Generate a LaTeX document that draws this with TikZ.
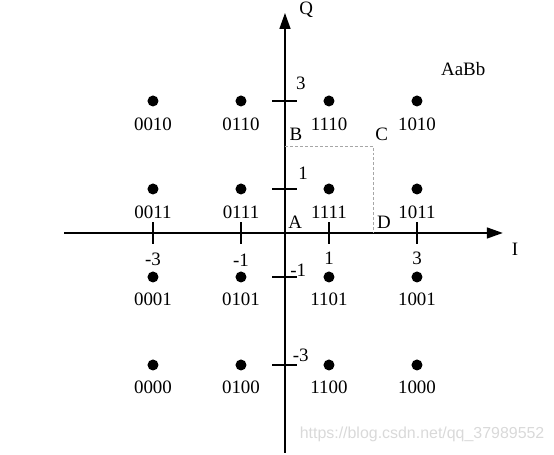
\documentclass[tikz,border=0pt]{standalone}
\usepackage{fontspec}
\setmainfont{Liberation Serif}
\newfontfamily\wmfont{Liberation Sans}
\usetikzlibrary{arrows.meta}

\begin{document}
\begin{tikzpicture}[
        x=44bp, y=44bp,
        pt/.style={circle, fill=black, inner sep=0pt, minimum size=11bp},
        code/.style={inner sep=0pt},
        axis/.style={line width=1.5bp, -{Triangle[length=16bp, width=11bp]}},
        tick/.style={line width=1.5bp},
        box/.style={densely dashed, gray!70, line width=0.6bp},
        every node/.style={font=\fontsize{19}{21}\selectfont}
        ]
      \useasboundingbox (-6.477,-5.045) rectangle (6.114,5.295);

      % axes
      \coordinate (xmin) at (-5.02,0);
      \coordinate (xmax) at (4.95,0);
      \coordinate (ymin) at (0,-5.0);
      \coordinate (ymax) at (0,5.0);
      \draw[axis] (xmin) -- (xmax);
      \draw[axis] (ymin) -- (ymax);
      \node[code] (I) at (5.23,-0.36) {I};
      \node[code] (Q) at (0.48,5.07) {Q};

      % ticks
      \draw[tick] (-3,-0.25) -- (-3,0.25);
      \draw[tick] (-1,-0.25) -- (-1,0.25);
      \draw[tick] (1,-0.25) -- (1,0.25);
      \draw[tick] (3,-0.25) -- (3,0.25);
      \draw[tick] (-0.29,3) -- (0.27,3);
      \draw[tick] (-0.29,1) -- (0.27,1);
      \draw[tick] (-0.29,-1) -- (0.27,-1);
      \draw[tick] (-0.29,-3) -- (0.27,-3);
      \node[code] (xm3) at (-3,-0.61) {-3};
      \node[code] (xm1) at (-1,-0.61) {-1};
      \node[code] (xp1) at (1,-0.57) {1};
      \node[code] (xp3) at (3,-0.57) {3};
      \node[code] (yp3) at (0.36,3.39) {3};
      \node[code] (yp1) at (0.41,1.36) {1};
      \node[code] (ym1) at (0.30,-0.84) {-1};
      \node[code] (ym3) at (0.36,-2.77) {-3};

      % region ABCD
      \coordinate (b) at (0,1.98);
      \coordinate (c) at (2,1.98);
      \coordinate (d) at (2,0);
      \draw[box] (b) -- (c) -- (d);
      \node[code] (A) at (0.23,0.25) {A};
      \node[code] (B) at (0.25,2.25) {B};
      \node[code] (C) at (2.2,2.25) {C};
      \node[code] (D) at (2.25,0.25) {D};
      \node[code] (AaBb) at (4.05,3.73) {AaBb};

      % constellation points
      \node[pt] (p0010) at (-3,3) {};
      \node[pt] (p0110) at (-1,3) {};
      \node[pt] (p1110) at (1,3) {};
      \node[pt] (p1010) at (3,3) {};
      \node[pt] (p0011) at (-3,1) {};
      \node[pt] (p0111) at (-1,1) {};
      \node[pt] (p1111) at (1,1) {};
      \node[pt] (p1011) at (3,1) {};
      \node[pt] (p0001) at (-3,-1) {};
      \node[pt] (p0101) at (-1,-1) {};
      \node[pt] (p1101) at (1,-1) {};
      \node[pt] (p1001) at (3,-1) {};
      \node[pt] (p0000) at (-3,-3) {};
      \node[pt] (p0100) at (-1,-3) {};
      \node[pt] (p1100) at (1,-3) {};
      \node[pt] (p1000) at (3,-3) {};

      \node[code] (c0010) at (-3,2.48) {0010};
      \node[code] (c0110) at (-1,2.48) {0110};
      \node[code] (c1110) at (1,2.48) {1110};
      \node[code] (c1010) at (3,2.48) {1010};
      \node[code] (c0011) at (-3,0.48) {0011};
      \node[code] (c0111) at (-1,0.48) {0111};
      \node[code] (c1111) at (1,0.48) {1111};
      \node[code] (c1011) at (3,0.48) {1011};
      \node[code] (c0001) at (-3,-1.5) {0001};
      \node[code] (c0101) at (-1,-1.5) {0101};
      \node[code] (c1101) at (1,-1.5) {1101};
      \node[code] (c1001) at (3,-1.5) {1001};
      \node[code] (c0000) at (-3,-3.5) {0000};
      \node[code] (c0100) at (-1,-3.5) {0100};
      \node[code] (c1100) at (1,-3.5) {1100};
      \node[code] (c1000) at (3,-3.5) {1000};

      \node[code, anchor=east, text=gray!30, font=\wmfont\fontsize{16}{18}\selectfont] (mark) at (5.9,-4.57) {https://blog.csdn.net/qq\_37989552};
    \end{tikzpicture}
\end{document}
